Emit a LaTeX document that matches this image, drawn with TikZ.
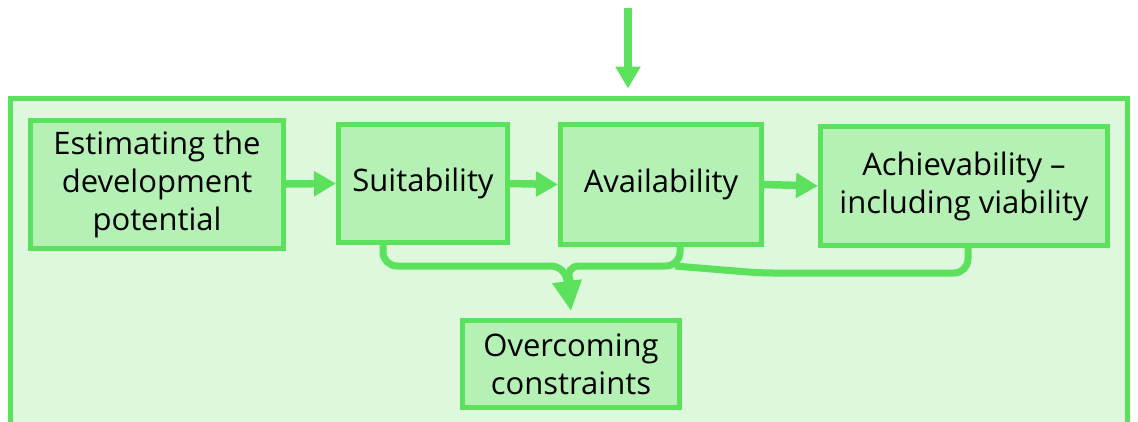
\documentclass[tikz,border=0pt]{standalone}
\usepackage{fontspec}
\setmainfont{Open Sans}
\usetikzlibrary{arrows.meta}
\definecolor{lineGreen}{RGB}{91,225,91}
\definecolor{boxGreen}{RGB}{181,241,181}
\definecolor{backGreen}{RGB}{222,248,222}
\tikzset{
  stage/.style={shape=rectangle, draw=lineGreen, fill=boxGreen, line width=5pt, align=center, inner sep=0pt},
  flow/.style={draw=lineGreen, line width=7.5pt, -{Triangle[length=22pt,width=24pt]}},
  link/.style={draw=lineGreen, line width=7pt, rounded corners=14pt}
}
\begin{document}
\begin{tikzpicture}[x=1pt,y=-1pt,font=\fontsize{31}{38}\selectfont]
	\useasboundingbox (0,0) rectangle (1138,421);
	\node[shape=rectangle, draw=lineGreen, fill=backGreen, line width=5pt, minimum width=1117pt, minimum height=351pt] (frame) at (569,273.5) {};
	\node[stage, minimum width=253pt, minimum height=128pt] (Est) at (157,184) {Estimating the\\development\\potential};
	\node[stage, minimum width=169pt, minimum height=118pt] (Suit) at (423,183.5) {Suitability};
	\node[stage, minimum width=201pt, minimum height=120pt] (Avail) at (661,184.5) {Availability};
	\node[stage, minimum width=287pt, minimum height=119pt] (Achv) at (964,186) {Achievability --\\including viability};
	\node[stage, minimum width=217pt, minimum height=87pt] (Over) at (571,364) {Overcoming\\constraints};
	\coordinate (src) at (628,8);
	\coordinate (join) at (565,266);
	\coordinate (bend) at (760,273);
	% Connections
	\draw [flow, shorten >=7pt] (src) -- (src |- frame.north);
	\draw [flow] (Est.east) -- (Suit.west);
	\draw [flow] (Suit.east) -- (Avail.west);
	\draw [flow] (Avail.east) -- (Achv.west);
	%% Merging into one
	\draw [link, -{Triangle[length=30pt,width=28pt]}] ([xshift=-40pt]Suit.south) |- (join) -- ([yshift=7pt]Over.north);
	\draw [link] ([xshift=19pt]Avail.south) |- (join) -- ([yshift=35pt]Over.north);
	\draw [link] ([xshift=4pt]Achv.south) |- (bend) -- ([xshift=110pt]join);
\end{tikzpicture}
\end{document}
